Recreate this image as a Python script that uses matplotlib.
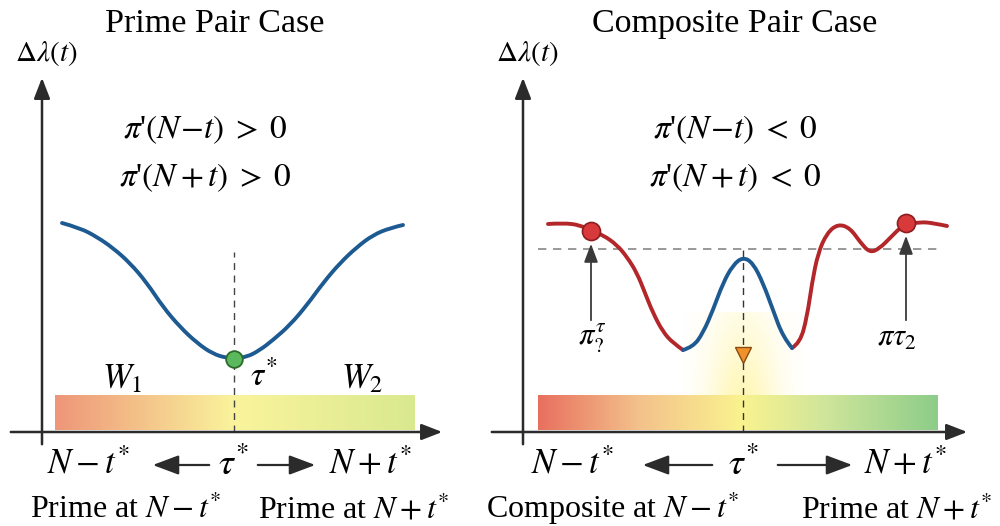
import numpy as np
import matplotlib
matplotlib.use('Agg')
import matplotlib.pyplot as plt
from matplotlib.colors import LinearSegmentedColormap
from matplotlib.path import Path
from matplotlib.patches import PathPatch

plt.rcParams['font.family'] = ['Liberation Serif', 'DejaVu Serif']
plt.rcParams['mathtext.fontset'] = 'stix'

# --- data (diagram units, origin at axis crossing, y up) ---
prime_x = [20, 38, 55, 71, 88, 105, 121, 138, 155, 171, 185, 193, 205, 218, 231, 248, 265, 281, 298, 315, 331, 348, 361]
prime_y = [209, 204, 195, 184, 169, 149, 125, 105, 89, 78, 74, 74, 75, 82, 92, 107, 127, 149, 169, 185, 197, 204, 207]
prime_min = (192, 73)

comp_left_x = [25, 40, 57, 68, 80, 94, 104, 114, 122, 130, 140, 150, 160]
comp_left_y = [208, 209, 207, 201, 197, 187, 175, 159, 139, 119, 100, 89, 82]
comp_mid_x = [160, 170, 180, 190, 200, 210, 220, 230, 240, 250, 260, 269]
comp_mid_y = [82, 85, 99, 122, 149, 167, 175, 169, 149, 122, 95, 84]
comp_right_x = [269, 277, 284, 289, 295, 304, 315, 327, 337, 347, 357, 367, 380, 397, 410, 424]
comp_right_y = [84, 89, 115, 149, 179, 199, 208, 204, 190, 179, 184, 194, 207, 210, 209, 206]
comp_dots_x = [68, 383]
comp_dots_y = [201, 209]
comp_threshold = 183
comp_tri = (220, 77)

BLUE = '#1e5a92'
RED = '#b3262a'
AX = '#2b2b2b'

fig = plt.figure(figsize=(10, 5.26), dpi=100)
axL = fig.add_axes([0, 0, 0.47, 1])
axR = fig.add_axes([0.48, 0, 0.52, 1])
axL.set_xlim(-42, 428)
axR.set_xlim(-43, 477)
for ax in (axL, axR):
    ax.set_ylim(-94, 432)
    ax.axis('off')


def smooth_line(ax, xs, ys, color, z=3):
    # quadratic bezier through midpoints -> rounded rendering of the polyline
    pts = list(zip(xs, ys))
    verts = [pts[0]]
    codes = [Path.MOVETO]
    for i in range(1, len(pts) - 1):
        mid = ((pts[i][0] + pts[i + 1][0]) / 2, (pts[i][1] + pts[i + 1][1]) / 2)
        if i == len(pts) - 2:
            mid = pts[-1]
        verts += [pts[i], mid]
        codes += [Path.CURVE3, Path.CURVE3]
    ax.add_patch(PathPatch(Path(verts, codes), fill=False, ec=color, lw=2.8,
                           capstyle='round', joinstyle='round', zorder=z))


def draw_axes(ax, xmax):
    ax.annotate('', xy=(xmax, 0), xytext=(-34, 0),
                arrowprops=dict(arrowstyle='-|>,head_length=0.9,head_width=0.35',
                                color=AX, lw=1.8, mutation_scale=14))
    ax.annotate('', xy=(0, 357), xytext=(0, -15),
                arrowprops=dict(arrowstyle='-|>,head_length=0.9,head_width=0.35',
                                color=AX, lw=1.8, mutation_scale=14))
    ax.text(4, 364, r'$\Delta\lambda(t)$', fontsize=21, ha='center', va='bottom')


def gradient_bar(ax, x0, x1, colors):
    cmap = LinearSegmentedColormap.from_list('g', colors)
    grad = np.linspace(0, 1, 256)[None, :]
    ax.imshow(grad, cmap=cmap, extent=(x0, x1, 2, 37), aspect='auto', zorder=1)


def long_arrow(ax, x_from, x_to, y):
    ax.annotate('', xy=(x_to, y), xytext=(x_from, y),
                arrowprops=dict(arrowstyle='-|>,head_length=0.8,head_width=0.3',
                                color=AX, lw=1.6, mutation_scale=20))


# ================= Left: Prime Pair Case =================
ax = axL
ax.text(173, 408, 'Prime Pair Case', fontsize=24.5, ha='center', va='center')
draw_axes(ax, 403)
gradient_bar(ax, 13, 373, [(0, '#ee9679'), (0.5, '#faf49c'), (1, '#d9e98f')])
ax.plot([192, 192], [0, 180], ls=(0, (5, 4)), color='#444444', lw=1.0, zorder=2)
smooth_line(ax, prime_x, prime_y, BLUE)
ax.plot(*prime_min, 'o', ms=12, mfc='#5cb85c', mec='#2d6b2d', mew=1.3, zorder=4)
ax.text(163, 302, r"$\pi$'$(N\!-\!t)\;>\;0$", fontsize=24, ha='center', va='center')
ax.text(163, 254, r"$\pi$'$(N+t)\;>\;0$", fontsize=24, ha='center', va='center')
ax.text(80, 52, r'$W_1$', fontsize=25, ha='center', va='center')
ax.text(222, 56, r'$\tau^{*}$', fontsize=24, ha='center', va='center')
ax.text(320, 52, r'$W_2$', fontsize=25, ha='center', va='center')
ax.text(46, -33, r'$N-t^{*}$', fontsize=25, ha='center', va='center')
long_arrow(ax, 170, 108, -33)
ax.text(191, -33, r'$\tau^{*}$', fontsize=27, ha='center', va='center')
long_arrow(ax, 213, 276, -33)
ax.text(328, -33, r'$N+t^{*}$', fontsize=25, ha='center', va='center')
ax.text(84, -86, r'Prime at $N-t^{*}$', fontsize=23, ha='center', va='baseline')
ax.text(312, -86, r'Prime at $N+t^{*}$', fontsize=23, ha='center', va='baseline')

# ================= Right: Composite Pair Case =================
ax = axR
ax.text(212, 408, 'Composite Pair Case', fontsize=24.5, ha='center', va='center')
draw_axes(ax, 447)
gradient_bar(ax, 15, 415, [(0, '#e8705f'), (0.25, '#f3c18b'), (0.51, '#faf38f'),
                           (0.72, '#cfe59b'), (1, '#8dcd89')])

# yellow haze below the central peak
gx = np.linspace(-1, 1, 200)
gy = np.linspace(0, 1, 120)
GX, GY = np.meshgrid(gx, gy)
alpha = np.exp(-(GX ** 2) / 0.35) * (0.35 + 0.65 * GY) * 0.7
glow = np.zeros((120, 200, 4))
glow[..., 0] = 1.0
glow[..., 1] = 0.96
glow[..., 2] = 0.6
glow[..., 3] = alpha
ax.imshow(glow, extent=(160, 280, 37, 120), origin='upper', aspect='auto', zorder=1)

ax.plot([15, 420], [comp_threshold, comp_threshold], ls=(0, (5, 4)), color='#888888', lw=1.2, zorder=2)
ax.plot([220, 220], [0, 187], ls=(0, (5, 4)), color='#333333', lw=1.0, zorder=2)
smooth_line(ax, comp_left_x, comp_left_y, RED)
smooth_line(ax, comp_right_x, comp_right_y, RED)
smooth_line(ax, comp_mid_x, comp_mid_y, BLUE)
ax.plot(*comp_tri, 'v', ms=12, mfc='#f0922b', mec='#8a4a10', mew=1.0, zorder=4)
for dx, dy in zip(comp_dots_x, comp_dots_y):
    ax.annotate('', xy=(dx, dy - 10), xytext=(dx, 109),
                arrowprops=dict(arrowstyle='-|>,head_length=0.8,head_width=0.3',
                                color='#3a3a3a', lw=1.3, mutation_scale=14), zorder=3)
ax.plot(comp_dots_x, comp_dots_y, 'o', ms=13, mfc='#d8393b', mec='#8e1d1f', mew=1.2, zorder=5)
ax.text(69, 94, r'$\pi^{\tau}_{?}$', fontsize=22, ha='center', va='center')
ax.text(374, 94, r'$\pi\tau_{2}$', fontsize=22, ha='center', va='center')

ax.text(212, 302, r"$\pi$'$(N\!-\!t)\;<\;0$", fontsize=24, ha='center', va='center')
ax.text(212, 254, r"$\pi$'$(N+t)\;<\;0$", fontsize=24, ha='center', va='center')
ax.text(49, -33, r'$N-t^{*}$', fontsize=25, ha='center', va='center')
long_arrow(ax, 192, 117, -33)
ax.text(220, -33, r'$\tau^{*}$', fontsize=27, ha='center', va='center')
long_arrow(ax, 252, 332, -33)
ax.text(382, -33, r'$N+t^{*}$', fontsize=25, ha='center', va='center')
ax.text(90, -86, r'Composite at $N-t^{*}$', fontsize=23, ha='center', va='baseline')
ax.text(374, -86, r'Prime at $N+t^{*}$', fontsize=23, ha='center', va='baseline')

fig.savefig('out.png', dpi=100)
